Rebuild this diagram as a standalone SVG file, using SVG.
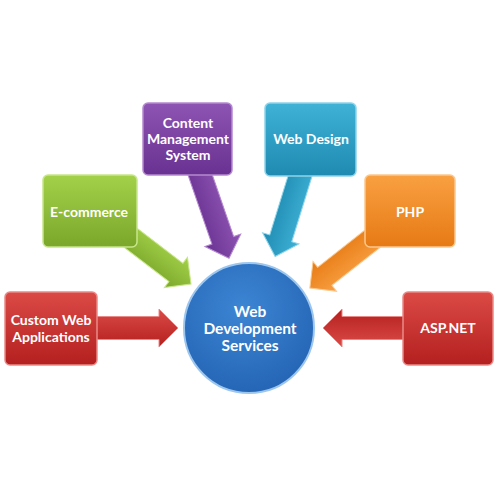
<svg xmlns="http://www.w3.org/2000/svg" width="500" height="500" viewBox="0 0 500 500">
<defs>
<linearGradient id="gRed" x1="0" y1="0" x2="0" y2="1"><stop offset="0" stop-color="#dc4a46"/><stop offset="1" stop-color="#b3201f"/></linearGradient>
<linearGradient id="gGreen" x1="0" y1="0" x2="0" y2="1"><stop offset="0" stop-color="#a3d14a"/><stop offset="1" stop-color="#7ba72a"/></linearGradient>
<linearGradient id="gPurple" x1="0" y1="0" x2="0" y2="1"><stop offset="0" stop-color="#8d54b3"/><stop offset="1" stop-color="#693191"/></linearGradient>
<linearGradient id="gBlue" x1="0" y1="0" x2="0" y2="1"><stop offset="0" stop-color="#3fb2d6"/><stop offset="1" stop-color="#1f8ab1"/></linearGradient>
<linearGradient id="gOrange" x1="0" y1="0" x2="0" y2="1"><stop offset="0" stop-color="#f9a042"/><stop offset="1" stop-color="#e67a14"/></linearGradient>
<radialGradient id="gCircle" cx="0.45" cy="0.35" r="0.7"><stop offset="0" stop-color="#3c86d4"/><stop offset="1" stop-color="#2463b4"/></radialGradient>
</defs>
<style>
.box{stroke-width:1.5;}
.lbl{font-family:Lato,"Liberation Sans",sans-serif;font-weight:bold;font-size:14px;fill:#ffffff;text-anchor:middle;}
.clbl{font-family:Lato,"Liberation Sans",sans-serif;font-weight:bold;font-size:15.5px;fill:#ffffff;text-anchor:middle;}
.arr{stroke-width:1;}
</style>
<rect width="500" height="500" fill="#ffffff"/>
<g id="connectors">
<path class="arr" fill="url(#gRed)" stroke="#e98a88" transform="translate(90,328)" d="M0,-11.5 L69,-11.5 L69,-19 L88,0 L69,19 L69,11.5 L0,11.5 Z"/>
<path class="arr" fill="url(#gRed)" stroke="#e98a88" transform="translate(410,328) rotate(180)" d="M0,-11.5 L68,-11.5 L68,-19 L87,0 L68,19 L68,11.5 L0,11.5 Z"/>
<path class="arr" fill="url(#gGreen)" stroke="#c8e68a" transform="translate(110,222) rotate(37.4)" d="M0,-11.5 L83,-11.5 L83,-19 L102,0 L83,19 L83,11.5 L0,11.5 Z"/>
<path class="arr" fill="url(#gPurple)" stroke="#b58ad0" transform="translate(195,160) rotate(70.9)" d="M0,-11.5 L85,-11.5 L85,-19 L104,0 L85,19 L85,11.5 L0,11.5 Z"/>
<path class="arr" fill="url(#gBlue)" stroke="#8ed4ea" transform="translate(305,160) rotate(107.2)" d="M0,-11.5 L82,-11.5 L82,-19 L101,0 L82,19 L82,11.5 L0,11.5 Z"/>
<path class="arr" fill="url(#gOrange)" stroke="#fbc88e" transform="translate(390,225) rotate(141.8)" d="M0,-11.5 L83,-11.5 L83,-19 L102,0 L83,19 L83,11.5 L0,11.5 Z"/>
</g>
<g id="node-custom">
<rect class="box" x="5" y="292" width="92" height="73" rx="5" fill="url(#gRed)" stroke="#e98a88"/>
<text class="lbl" x="51" y="325">Custom Web</text>
<text class="lbl" x="51" y="342">Applications</text>
</g>
<g id="node-asp">
<rect class="box" x="403" y="292" width="90" height="73" rx="5" fill="url(#gRed)" stroke="#e98a88"/>
<text class="lbl" x="448" y="333">ASP.NET</text>
</g>
<g id="node-ecommerce">
<rect class="box" x="43" y="175" width="94" height="72" rx="5" fill="url(#gGreen)" stroke="#c8e68a"/>
<text class="lbl" x="89" y="217">E-commerce</text>
</g>
<g id="node-cms">
<rect class="box" x="143" y="103" width="89" height="72" rx="5" fill="url(#gPurple)" stroke="#b58ad0"/>
<text class="lbl" x="188" y="128">Content</text>
<text class="lbl" x="188" y="144">Management</text>
<text class="lbl" x="188" y="160">System</text>
</g>
<g id="node-webdesign">
<rect class="box" x="265" y="103" width="91" height="73" rx="5" fill="url(#gBlue)" stroke="#8ed4ea"/>
<text class="lbl" x="311" y="144">Web Design</text>
</g>
<g id="node-php">
<rect class="box" x="365" y="175" width="90" height="72" rx="5" fill="url(#gOrange)" stroke="#fbc88e"/>
<text class="lbl" x="410" y="217">PHP</text>
</g>
<g id="node-center">
<circle cx="249" cy="328" r="65" fill="url(#gCircle)" stroke="#9cc6ee" stroke-width="2"/>
<text class="clbl" x="250" y="317">Web</text>
<text class="clbl" x="250" y="334">Development</text>
<text class="clbl" x="250" y="351">Services</text>
</g>
</svg>
